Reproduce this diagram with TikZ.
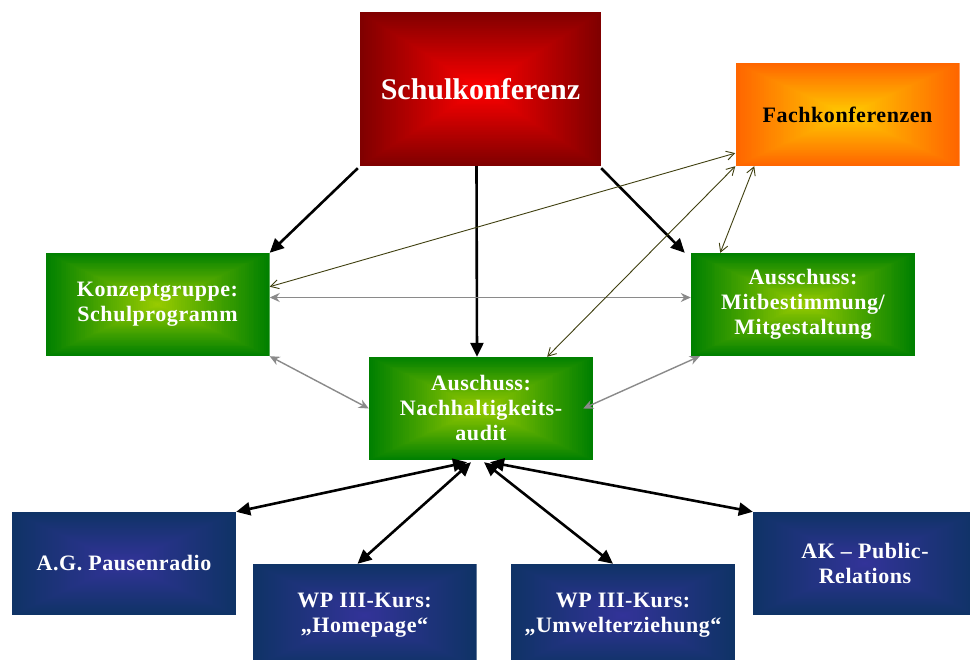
\documentclass[tikz,border=0pt]{standalone}
\usepackage{fontspec}
\setmainfont{Liberation Serif}
\usetikzlibrary{arrows.meta,calc}
\definecolor{redE}{HTML}{800000}
\definecolor{redC}{HTML}{FF0000}
\definecolor{orE}{HTML}{FF6600}
\definecolor{orC}{HTML}{FFCC00}
\definecolor{grE}{HTML}{008000}
\definecolor{grC}{HTML}{99CC00}
\definecolor{blE}{HTML}{0F3366}
\definecolor{blC}{HTML}{333399}
\definecolor{olive2}{HTML}{404010}
\definecolor{greyA}{HTML}{8A8A8A}
\tikzset{
  rgrad/.style 2 args={path picture={
    \foreach \i in {0,...,59}{
      \pgfmathtruncatemacro\gp{100*\i/59}
      \pgfmathsetmacro\gf{\i/119}
      \fill[#2!\gp!#1] ($(path picture bounding box.south west)!\gf!(path picture bounding box.north east)$) rectangle ($(path picture bounding box.north east)!\gf!(path picture bounding box.south west)$);
    }}},
  box/.style={rectangle, minimum width=224pt, minimum height=103pt, inner sep=2pt,
    align=center, text=white, font=\bfseries\fontsize{22}{25}\selectfont\addfontfeatures{LetterSpace=2.5}},
  redbox/.style={box, rgrad={redE}{redC}, minimum width=241pt, minimum height=154pt,
    font=\bfseries\fontsize{30}{34}\selectfont},
  orbox/.style={box, rgrad={orE}{orC}, text=black},
  grbox/.style={box, rgrad={grE}{grC}},
  blbox/.style={box, rgrad={blE}{blC}},
  blackarr/.style={line width=2.6pt, black, -{Triangle[length=14pt,width=13pt]}},
  blackdbl/.style={line width=2.6pt, black, {Triangle[length=14pt,width=13pt]}-{Triangle[length=14pt,width=13pt]}},
  greydbl/.style={line width=1.4pt, greyA, {Stealth[length=10pt,width=9pt]}-{Stealth[length=10pt,width=9pt]}},
  olivedbl/.style={line width=0.9pt, olive2, {Straight Barb[length=8pt,width=9pt]}-{Straight Barb[length=8pt,width=9pt]}},
}
\begin{document}
\begin{tikzpicture}[x=1pt,y=-1pt]
\useasboundingbox (0,0) rectangle (970,660);
\clip (0,0) rectangle (970,660);
\fill[white] (0,0) rectangle (970,660);

\node[redbox] (sk) at (480.5,89) {Schulkonferenz};
\node[orbox] (fk) at (847.5,114.5) {Fachkonferenzen};
\node[grbox] (kg) at (157.5,304.5) {Konzeptgruppe:\\Schulprogramm};
\node[grbox] (mb) at (803,304.5) {Ausschuss:\\Mitbestimmung/\\Mitgestaltung};
\node[grbox] (nh) at (481,408.5) {Auschuss:\\Nachhaltigkeits-\\audit};
\node[blbox] (ap) at (124,563.5) {A.G. Pausenradio};
\node[blbox] (hp) at (364.5,615.5) {WP III-Kurs:\\„Homepage“};
\node[blbox] (uw) at (623,615.5) {WP III-Kurs:\\„Umwelterziehung“};
\node[blbox] (ak) at (865,563.5) {AK – Public-\\Relations};

% black arrows from Schulkonferenz
\draw[blackarr] ([xshift=-2pt,yshift=-2pt]sk.south west) -- (kg.north east);
\draw[blackarr] ([xshift=-4pt]sk.south) -- ([xshift=-4pt]nh.north);
\draw[blackarr] ([yshift=-2pt]sk.south east) -- ([xshift=-6pt]mb.north west);

% grey double arrows
\draw[greydbl] ([yshift=7pt]kg.east) -- ([yshift=7pt]mb.west);
\draw[greydbl] (kg.south east) -- (nh.west);
\draw[greydbl] ([xshift=-10pt]nh.east) -- ([xshift=9pt]mb.south west);

% olive double arrows
\draw[olivedbl] (kg.9) -- (fk.199);
\draw[olivedbl] (nh.38) -- (fk.south west);
\draw[olivedbl] (mb.148) -- (fk.209);

% black double arrows to the lower boxes
\draw[blackdbl] ([xshift=-14pt,yshift=-2pt]nh.south) -- (ap.north east);
\draw[blackdbl] ([xshift=-10pt,yshift=-2pt]nh.south) -- ([xshift=-7pt]hp.north);
\draw[blackdbl] ([xshift=3pt,yshift=-2pt]nh.south) -- ([xshift=-10pt]uw.north);
\draw[blackdbl] ([xshift=9pt,yshift=-2pt]nh.south) -- (ak.north west);
\end{tikzpicture}
\end{document}
